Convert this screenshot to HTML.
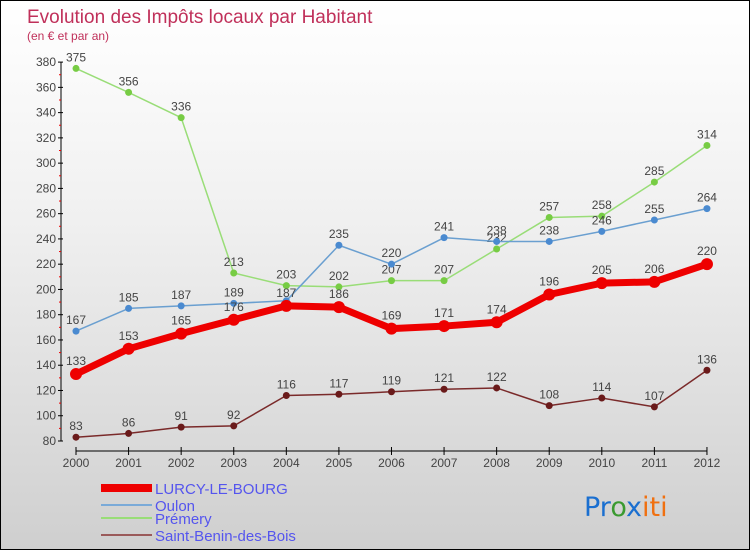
<!DOCTYPE html>
<html><head><meta charset="utf-8"><style>
body{margin:0;}
#c{position:relative;width:748px;height:548px;border:1px solid #000;background:linear-gradient(#fff 0%,#f0f0f0 40%,#cfcfcf 100%);font-family:"Liberation Sans",sans-serif;overflow:hidden}
</style></head><body>
<div id="c">
<svg id="s" width="748" height="548">
<text x="26" y="22" font-size="19" fill="#c0305a">Evolution des Impôts locaux par Habitant</text>
<text x="26" y="39" font-size="12" fill="#c0305a">(en € et par an)</text>
<g id="axes"></g><g id="series"></g><g id="legend"></g>
<text x="583" y="515" font-size="27" font-family="DejaVu Sans, sans-serif"><tspan fill="#1a6fd0">Pr</tspan><tspan fill="#3a9a30">o</tspan><tspan fill="#1a6fd0">x</tspan><tspan fill="#f07010">iti</tspan></text>
</svg></div>
<script>
const years=[2000,2001,2002,2003,2004,2005,2006,2007,2008,2009,2010,2011,2012];
const yTicks=[80,100,120,140,160,180,200,220,240,260,280,300,320,340,360,380];
const lurcy=[133,153,165,176,187,186,169,171,174,196,205,206,220];
const oulon=[167,185,187,189,191,235,220,241,238,238,246,255,264];
const premery=[375,356,336,213,203,202,207,207,232,257,258,285,314];
const benin=[83,86,91,92,116,117,119,121,122,108,114,107,136];
const NS="http://www.w3.org/2000/svg";
const X=i=>75+i*52.58, Y=v=>440-(v-80)*1.263;
function mk(t,a,p){const e=document.createElementNS(NS,t);for(const k in a)e.setAttribute(k,a[k]);p.appendChild(e);return e;}
const ax=document.getElementById('axes');
let e=mk('line',{x1:60,y1:Y(380),x2:60,y2:Y(80),stroke:'#000'},ax);


e=mk('line',{x1:75,y1:450,x2:706,y2:450,stroke:'#000'},ax);


yTicks.forEach(v=>{mk('line',{x1:57,y1:Y(v),x2:62,y2:Y(v),stroke:'#000'},ax);
 if(v<380)mk('line',{x1:58,y1:Y(v+10),x2:60,y2:Y(v+10),stroke:'#e00'},ax);
 const t=mk('text',{x:55,y:Y(v)+4,'font-size':12,fill:'#444','text-anchor':'end'},ax);t.textContent=v;
 
 });
years.forEach((y,i)=>{mk('line',{x1:X(i),y1:446,x2:X(i),y2:454,stroke:'#000'},ax);
 const t=mk('text',{x:X(i),y:466,'font-size':12,fill:'#444','text-anchor':'middle'},ax);t.textContent=y;
 
 });
const sg=document.getElementById('series');
function series(d,col,dot,w,r,name,hide){const g=mk('g',{},sg);
 
 
 mk('polyline',{points:d.map((v,i)=>X(i)+','+Y(v)).join(' '),fill:'none',stroke:col,'stroke-width':w,'stroke-linejoin':'round'},g);
 d.forEach((v,i)=>{mk('circle',{cx:X(i),cy:Y(v),r:r,fill:dot},g);
  if(!(hide||[]).includes(i)){const t=mk('text',{x:X(i),y:Y(v)-(w>3?9:7),'font-size':12,fill:'#444','text-anchor':'middle'},g);t.textContent=v;}});}
series(benin,'#7a2a2a','#6a1a1a',1.5,3.5,'series-saint-benin');
series(premery,'#99dd77','#77cc44',1.5,3.5,'series-premery');
series(oulon,'#6a9fd0','#4a8ad0',1.5,3.5,'series-oulon',[4]);
series(lurcy,'#ee0000','#ee0000',7,6,'series-lurcy');
const lg=document.getElementById('legend');
[['LURCY-LE-BOURG','#ee0000',8,492],['Oulon','#7aaad8',2,509],['Prémery','#99dd77',2,522],['Saint-Benin-des-Bois','#9a5a5a',2,539]].forEach(l=>{
 const g=mk('g',{},lg);
 
 
 mk('line',{x1:100,y1:l[3]-5,x2:151,y2:l[3]-5,stroke:l[1],'stroke-width':l[2]},g);
 const t=mk('text',{x:154,y:l[3]+1,'font-size':15,fill:'#5555ee'},g);t.textContent=l[0];});
</script>
</body></html>
